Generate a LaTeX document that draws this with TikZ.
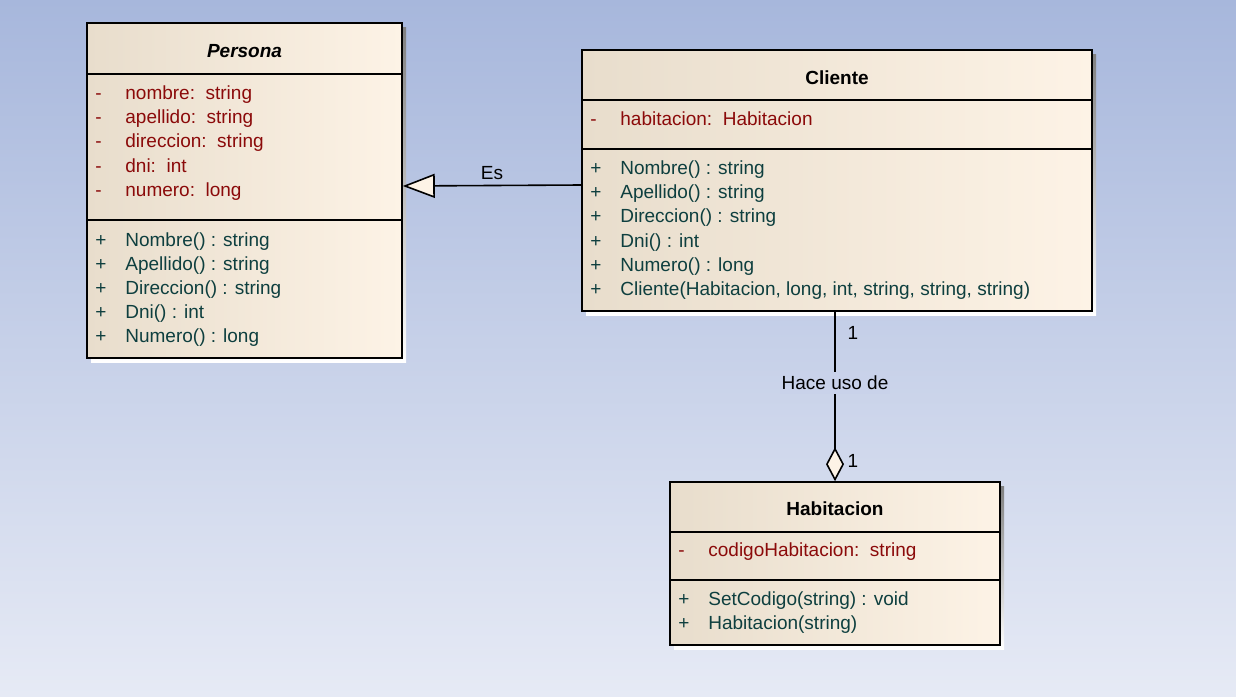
\documentclass[tikz,border=0pt]{standalone}
\usepackage{fontspec}
\setmainfont{Liberation Sans}
\usetikzlibrary{arrows.meta}
\definecolor{bgtop}{HTML}{A7B7DC}
\definecolor{bgbot}{HTML}{E6EAF5}
\definecolor{bgmid}{HTML}{C9D2EA}
\definecolor{boxleft}{HTML}{E8DDCC}
\definecolor{boxright}{HTML}{FDF3E6}
\definecolor{attrred}{HTML}{8B0A0A}
\definecolor{methteal}{HTML}{0E3F3F}
\definecolor{shade}{HTML}{9EA4B4}
\newcommand{\umlrow}[2]{\makebox[15pt][l]{#1}#2}
\begin{document}
\begin{tikzpicture}[x=0.5pt,y=0.5pt]
    \tikzstyle{every node}+=[inner sep=0pt, font=\fontsize{9.5}{11}\selectfont]
    \tikzstyle{classbox}=[draw=black, line width=0.8pt, left color=boxleft, right color=boxright]
    \tikzstyle{classname}=[font=\fontsize{9.5}{11}\selectfont\bfseries]
    \tikzstyle{attr}=[anchor=base west, text=attrred]
    \tikzstyle{meth}=[anchor=base west, text=methteal]
    \tikzstyle{sep}=[black, line width=0.8pt]
    \useasboundingbox (0,0) rectangle (1236,-696);
    \fill [top color=bgtop, bottom color=bgbot] (0,0) rectangle (1236,-696);
    \fill [shade] (91,-27) rectangle (406,-362);
    \fill [shade] (586,-54) rectangle (1096,-315);
    \fill [shade] (674,-486) rectangle (1004,-649);
    \node [classbox, minimum width=157.5pt, minimum height=167.5pt] (persona) at (244.5,-190.5) {};
    \node [classbox, minimum width=255pt, minimum height=130.5pt] (cliente) at (837,-180.5) {};
    \node [classbox, minimum width=165pt, minimum height=81.5pt] (habitacion) at (835,-563.5) {};
    \draw [sep] (persona.west |- 0,-74) -- (persona.east |- 0,-74);
    \draw [sep] (persona.west |- 0,-220) -- (persona.east |- 0,-220);
    \draw [sep] (cliente.west |- 0,-100) -- (cliente.east |- 0,-100);
    \draw [sep] (cliente.west |- 0,-149) -- (cliente.east |- 0,-149);
    \draw [sep] (habitacion.west |- 0,-532) -- (habitacion.east |- 0,-532);
    \draw [sep] (habitacion.west |- 0,-580) -- (habitacion.east |- 0,-580);
    \node [classname, font=\fontsize{9.5}{11}\selectfont\bfseries\itshape] (ptitle) at (244.5,-51) {Persona};
    \node [attr] (pa1) at (95,-99) {\umlrow{-}{nombre:\ \ string}};
    \node [attr] (pa2) at (95,-123) {\umlrow{-}{apellido:\ \ string}};
    \node [attr] (pa3) at (95,-147) {\umlrow{-}{direccion:\ \ string}};
    \node [attr] (pa4) at (95,-172) {\umlrow{-}{dni:\ \ int}};
    \node [attr] (pa5) at (95,-196) {\umlrow{-}{numero:\ \ long}};
    \node [meth] (pm1) at (95,-246) {\umlrow{+}{Nombre() : string}};
    \node [meth] (pm2) at (95,-270) {\umlrow{+}{Apellido() : string}};
    \node [meth] (pm3) at (95,-294) {\umlrow{+}{Direccion() : string}};
    \node [meth] (pm4) at (95,-318) {\umlrow{+}{Dni() : int}};
    \node [meth] (pm5) at (95,-342) {\umlrow{+}{Numero() : long}};
    \node [classname] (ctitle) at (837,-78) {Cliente};
    \node [attr] (ca1) at (590,-125) {\umlrow{-}{habitacion:\ \ Habitacion}};
    \node [meth] (cm1) at (590,-174) {\umlrow{+}{Nombre() : string}};
    \node [meth] (cm2) at (590,-198) {\umlrow{+}{Apellido() : string}};
    \node [meth] (cm3) at (590,-222) {\umlrow{+}{Direccion() : string}};
    \node [meth] (cm4) at (590,-247) {\umlrow{+}{Dni() : int}};
    \node [meth] (cm5) at (590,-271) {\umlrow{+}{Numero() : long}};
    \node [meth] (cm6) at (590,-295) {\umlrow{+}{Cliente(Habitacion, long, int, string, string, string)}};
    \node [classname] (htitle) at (835,-509) {Habitacion};
    \node [attr] (ha1) at (678,-556) {\umlrow{-}{codigoHabitacion:\ \ string}};
    \node [meth] (hm1) at (678,-605) {\umlrow{+}{SetCodigo(string) : void}};
    \node [meth] (hm2) at (678,-629) {\umlrow{+}{Habitacion(string)}};
    \draw [line width=0.8pt, -{Triangle[length=16pt, width=12pt, fill=boxright]}] (cliente.west |- 0,-185) -- (persona.east |- 0,-186);
    \node (es) at (492,-173) {Es};
    \draw [line width=0.8pt, -{Diamond[length=17pt, width=9pt, fill=boxright]}] (cliente.south -| 835,0) -- (habitacion.north -| 835,0);
    \node (m1) at (853,-333) {1};
    \node (m2) at (853,-461) {1};
    \node [fill=bgmid, inner xsep=1pt, inner ysep=2pt] (uso) at (835,-383) {Hace uso de};
\end{tikzpicture}
\end{document}
